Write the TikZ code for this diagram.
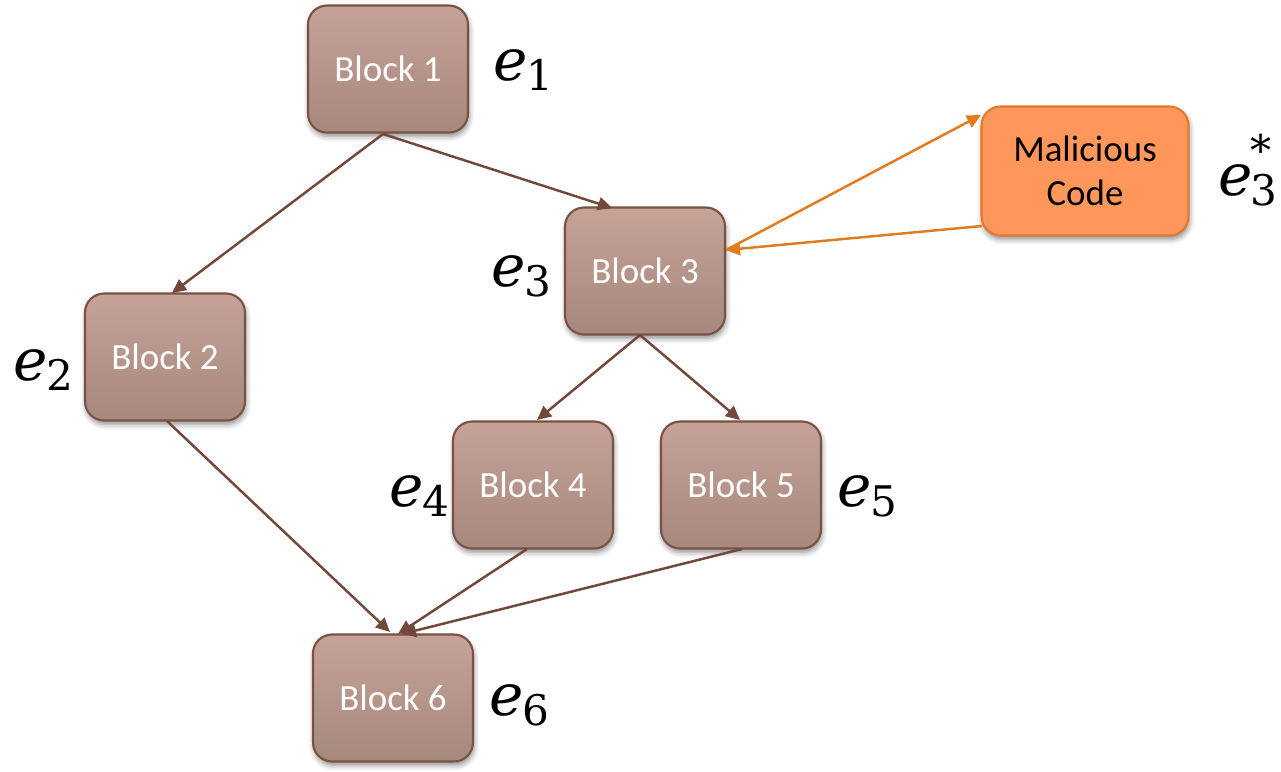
\documentclass[tikz,border=0pt]{standalone}
\usepackage{fontspec}
\setmainfont{Carlito}
\newfontfamily\efont{DejaVu Serif}
\usetikzlibrary{arrows.meta,shadows.blur}
\definecolor{blocktop}{HTML}{C6A297}
\definecolor{blockbot}{HTML}{A6887E}
\definecolor{blockline}{HTML}{7B5242}
\definecolor{flowline}{HTML}{71483A}
\definecolor{malfill}{HTML}{FF965A}
\definecolor{malline}{HTML}{E4782C}
\definecolor{malarrow}{HTML}{E27A1E}
% edge variable e with a lowered index, optionally with a raised star
\newcommand{\evar}[1]{{\efont\fontsize{33}{33}\selectfont\itshape e}\kern-0.5pt\raisebox{-6pt}{\efont\fontsize{24}{24}\selectfont #1}}
\newcommand{\evarstar}[1]{{\efont\fontsize{33}{33}\selectfont\itshape e}\kern-1pt\rlap{\raisebox{17pt}{\efont\fontsize{24}{24}\selectfont *}}\raisebox{-6pt}{\efont\fontsize{24}{24}\selectfont #1}}
\tikzset{
  px/.style={x=0.02cm,y=-0.02cm},
  block/.style={draw=blockline, line width=1.2pt, rounded corners=0.38cm,
    minimum width=3.2cm, minimum height=2.54cm, top color=blocktop, bottom color=blockbot,
    text=white, font=\fontsize{21}{24}\selectfont,
    blur shadow={shadow xshift=0.6pt, shadow yshift=-2.2pt, shadow opacity=45, shadow blur radius=3pt}},
  malbox/.style={block, draw=malline, top color=malfill, bottom color=malfill,
    minimum width=4.14cm, minimum height=2.58cm, text=black, align=center,
    font=\fontsize{21}{25}\selectfont},
  elabel/.style={anchor=base west, inner sep=0pt},
  flow/.style={draw=flowline, line width=1.4pt, -{Triangle[length=8pt,width=7.5pt]}},
  malflow/.style={draw=malarrow, line width=1.4pt, -{Triangle[length=8pt,width=7.5pt]}}
}
\begin{document}
\begin{tikzpicture}[px]
\useasboundingbox (0,0) rectangle (1281,771);
% basic blocks of the control flow graph
\node[block] (b1) at (388,69) {Block 1};
\node[block] (b2) at (165,357) {Block 2};
\node[block] (b3) at (645,271) {Block 3};
\node[block] (b4) at (533,485) {Block 4};
\node[block] (b5) at (741,485) {Block 5};
\node[block] (b6) at (393,698) {Block 6};
\node[malbox] (mc) at (1085,171) {Malicious\\Code};
% edge labels
\node[elabel] (l1) at (493,80) {\evar{1}};
\node[elabel] (l2) at (13,380) {\evar{2}};
\node[elabel] (l3) at (491,286) {\evar{3}};
\node[elabel] (l4) at (389,506) {\evar{4}};
\node[elabel] (l5) at (837,506) {\evar{5}};
\node[elabel] (l6) at (489,715) {\evar{6}};
\node[elabel] (l7) at (1218,195) {\evarstar{3}};
% anchor points on the block borders
\coordinate (b1o) at (383,134);
\coordinate (b3i) at (612,208);
\coordinate (b2i) at (172,293);
\coordinate (b2o) at (167,421);
\coordinate (b3o) at (640,335);
\coordinate (b4i) at (537,420);
\coordinate (b5i) at (740,420);
\coordinate (b4o) at (527,549);
\coordinate (b5o) at (742,549);
\coordinate (b6a) at (390,632);
\coordinate (b6b) at (398,634);
\coordinate (b6c) at (402,634);
\coordinate (b3r) at (726,250);
\coordinate (mcl) at (981,115);
\coordinate (mco) at (982,226);
% control flow edges
\draw[flow] (b1o) -- (b3i);
\draw[flow] (b1o) -- (b2i);
\draw[flow] (b2o) -- (b6a);
\draw[flow] (b3o) -- (b4i);
\draw[flow] (b3o) -- (b5i);
\draw[flow] (b4o) -- (b6b);
\draw[flow] (b5o) -- (b6c);
% injected detour
\draw[malflow] (b3r) -- (mcl);
\draw[malflow] (mco) -- (b3r);
\end{tikzpicture}
\end{document}
